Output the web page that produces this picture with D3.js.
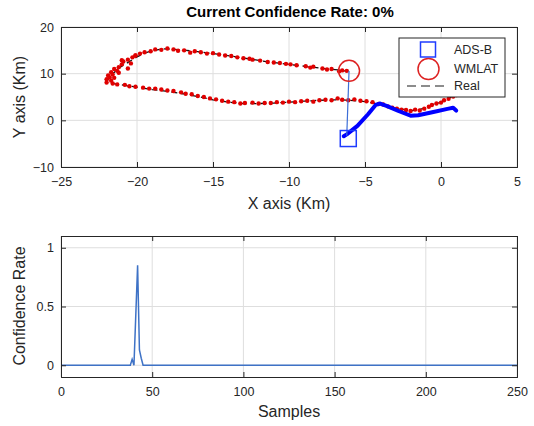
<!DOCTYPE html>
<html><head><meta charset="utf-8">
<script src="https://cdn.jsdelivr.net/npm/d3@7"></script>
<style>
html,body{margin:0;padding:0;background:#fff;}
svg{display:block;font-family:"Liberation Sans",Arial,sans-serif;}
</style></head>
<body>
<svg id="chart" width="534" height="426"></svg>
<script>
// ---------------- DATA ----------------
const titleText = "Current Confidence Rate: 0%";
const xTicksTop = [-25, -20, -15, -10, -5, 0, 5];
const yTicksTop = [-10, 0, 10, 20];
const xTicksBottom = [0, 50, 100, 150, 200, 250];
const yTicksBottom = [0, 0.5, 1];

// Real trajectory (km)
const realX = [-6.1,-6.8,-7.5,-8.5,-9.5,-10.5,-11.5,-12.5,-13.5,-14.5,-15.5,-16.5,-17.5,-18.3,-19.0,-19.5,-20.0,-20.5,-21.1,-21.6,-21.9,-22.0,
  -21.0,-20.0,-19.0,-18.0,-17.0,-16.0,-15.0,-14.0,-13.0,-12.0,-11.0,-10.0,-9.0,-8.0,-7.0,-6.0,-5.0,-4.0,-3.0,-2.0,-1.5,-1.0,-0.5,0.0,0.5,1.0,1.4];
const realY = [10.5,10.8,11.0,11.4,11.8,12.2,12.6,13.1,13.6,14.1,14.5,14.9,15.2,15.3,14.9,14.4,13.6,12.6,11.4,10.0,8.8,8.1,
  7.6,7.1,6.6,6.2,5.7,5.1,4.4,3.9,3.6,3.6,3.7,3.9,4.1,4.3,4.4,4.3,4.0,3.4,2.6,2.1,2.2,2.7,3.4,3.9,4.7,5.6,6.5];

// WMLAT estimates (km)
const wmlatX = [-6.2,-6.5,-6.7,-7.2,-7.5,-7.8,-8.4,-8.6,-8.9,-9.5,-9.9,-10.2,-10.6,-11.0,-11.4,-11.9,-12.4,-12.6,-13.0,-13.4,-13.8,-14.2,-14.6,-15.0,-15.4,-15.8,-16.2,-16.5,-16.9,-17.3,-17.6,-18.0,-18.4,-18.8,-19.1,-19.5,-19.8,-20.1,-20.3,-20.6,-20.4,-20.9,-21.0,-21.2,-21.5,-21.3,-21.7,-21.6,-21.9,-21.8,-22.0,-21.7,-22.0,-21.5,-21.2,-20.6,-21.0,-20.1,
  -21.6,-21.3,-20.8,-20.5,-20.1,-19.6,-19.2,-18.8,-18.4,-18.0,-17.6,-17.1,-16.8,-16.4,-16.0,-15.6,-15.2,-14.8,-14.4,-14.0,-13.6,-13.2,-12.9,-12.4,-12.0,-11.6,-11.2,-10.8,-10.4,-10.0,-9.6,-9.2,-8.8,-8.4,-8.0,-7.6,-7.2,-6.8,-6.5,-6.1,-5.7,-5.3,-4.9,-4.5,-4.1,-3.8,-3.5,-3.2,-2.9,-2.6,-2.3,-2.0,-1.7,-1.4,-1.1,-0.8,-0.6,-0.3,0.0,0.2,0.5,0.8,1.0];
const wmlatY = [10.6,10.7,10.5,11.0,10.9,11.1,11.5,11.3,11.6,11.8,12.0,12.1,12.3,12.4,12.5,12.8,13.0,13.2,13.3,13.5,13.8,13.9,14.1,14.4,14.3,14.6,14.8,14.5,15.0,14.9,15.2,15.4,15.1,15.2,14.8,14.6,14.3,13.9,13.5,13.0,12.2,12.6,12.0,11.4,11.0,10.6,10.3,9.8,9.6,9.2,8.8,8.5,8.1,9.1,10.2,11.1,12.9,13.9,
  7.9,7.7,7.6,7.3,7.2,7.0,6.8,6.8,6.6,6.4,6.3,6.0,5.7,5.6,5.2,5.0,4.7,4.5,4.2,4.0,3.9,3.6,3.7,3.8,3.6,3.7,3.7,3.9,3.8,4.0,3.9,4.1,4.2,4.0,4.3,4.4,4.3,4.7,4.4,4.3,4.5,4.2,4.1,3.9,3.5,3.4,3.0,2.7,2.5,2.3,2.2,2.0,2.3,2.1,2.5,2.9,3.3,3.6,3.8,4.3,4.6,5.1,5.4];

// ADS-B track (km)
const adsbX = [-6.4,-6.2,-5.5,-4.8,-4.3,-4.0,-3.5,-2.8,-2.0,-1.5,-0.5,0.5,0.8,1.0];
const adsbY = [-3.4,-3.0,-1.2,1.3,3.3,3.6,3.0,2.0,1.0,1.1,1.8,2.5,2.7,2.1];

// current positions
const adsbNow = [-6.1, -3.9];
const wmlatNow = [-6.05, 10.6];
const linkFrom = [-6.2, -3.3];

// confidence rate vs samples
const samples = [0, 38, 39, 40, 42, 43, 44, 45, 250];
const confidence = [0, 0, 0.05, 0, 0.85, 0.13, 0.06, 0, 0];

const legendLabels = ["ADS-B", "WMLAT", "Real"];

// ---------------- DRAW ----------------
const svg = d3.select("#chart");
const axisCol = "#262626", gridCol = "#dedede";

function frame(g, x, y, xt, yt) {
  const [x0, x1] = x.range(), [y0, y1] = y.range();
  g.append("g").selectAll("line").data(xt).join("line")
    .attr("x1", d => x(d)).attr("x2", d => x(d)).attr("y1", y0).attr("y2", y1)
    .attr("stroke", gridCol).attr("stroke-width", 1);
  g.append("g").selectAll("line").data(yt).join("line")
    .attr("y1", d => y(d)).attr("y2", d => y(d)).attr("x1", x0).attr("x2", x1)
    .attr("stroke", gridCol).attr("stroke-width", 1);
}
function axes(g, x, y, xt, yt, fmtX, fmtY) {
  const [x0, x1] = x.range(), [y0, y1] = y.range();
  const ax = [
    [d3.axisBottom(x).tickValues(xt).tickSize(-5).tickPadding(10).tickFormat(fmtX), y0],
    [d3.axisTop(x).tickValues(xt).tickSize(-5).tickFormat(""), y1],
  ];
  ax.forEach(([a, ty]) => {
    const ag = g.append("g").attr("transform", `translate(0,${ty})`).call(a);
    ag.select(".domain").attr("stroke", axisCol).attr("stroke-width", 1);
    ag.selectAll(".tick line").attr("stroke", axisCol);
    ag.selectAll("text").attr("fill", axisCol).style("font-size", "12.5px");
  });
  const ay = [
    [d3.axisLeft(y).tickValues(yt).tickSize(-5).tickPadding(7).tickFormat(fmtY), x0],
    [d3.axisRight(y).tickValues(yt).tickSize(-5).tickFormat(""), x1],
  ];
  ay.forEach(([a, tx]) => {
    const ag = g.append("g").attr("transform", `translate(${tx},0)`).call(a);
    ag.select(".domain").attr("stroke", axisCol).attr("stroke-width", 1);
    ag.selectAll(".tick line").attr("stroke", axisCol);
    ag.selectAll("text").attr("fill", axisCol).style("font-size", "12.5px");
  });
}

// ---- top plot ----
const xT = d3.scaleLinear().domain([-25, 5]).range([61, 517]);
const yT = d3.scaleLinear().domain([-10, 20]).range([167, 27]);
const gT = svg.append("g");
frame(gT, xT, yT, xTicksTop, yTicksTop);

svg.append("clipPath").attr("id", "clipT").append("rect")
  .attr("x", 61).attr("y", 27).attr("width", 456).attr("height", 140);
const plotT = gT.append("g").attr("clip-path", "url(#clipT)");

const line = d3.line().x(d => xT(d[0])).y(d => yT(d[1]));
plotT.append("path").datum(d3.zip(realX, realY)).attr("d", line)
  .attr("fill", "none").attr("stroke", "#111").attr("stroke-width", 1.3).attr("stroke-dasharray", "6,4");

plotT.append("g").selectAll("circle").data(d3.zip(wmlatX, wmlatY)).join("circle")
  .attr("cx", d => xT(d[0])).attr("cy", d => yT(d[1])).attr("r", 2.2).attr("fill", "#e00000");

plotT.append("path").datum(d3.zip(adsbX, adsbY)).attr("d", line)
  .attr("fill", "none").attr("stroke", "#0000ff").attr("stroke-width", 4)
  .attr("stroke-linejoin", "round").attr("stroke-linecap", "round");

plotT.append("line")
  .attr("x1", xT(linkFrom[0])).attr("y1", yT(linkFrom[1]))
  .attr("x2", xT(wmlatNow[0])).attr("y2", yT(wmlatNow[1]))
  .attr("stroke", "#3d6ed6").attr("stroke-width", 1.2);

plotT.append("rect").attr("x", xT(adsbNow[0]) - 8).attr("y", yT(adsbNow[1]) - 8)
  .attr("width", 16).attr("height", 16).attr("fill", "none").attr("stroke", "#1f3cff").attr("stroke-width", 1.5);
plotT.append("circle").attr("cx", xT(wmlatNow[0])).attr("cy", yT(wmlatNow[1])).attr("r", 10.5)
  .attr("fill", "none").attr("stroke", "#dd2222").attr("stroke-width", 1.5);

axes(gT, xT, yT, xTicksTop, yTicksTop, d => d3.format("")(d), d => d3.format("")(d));

// legend
const lg = gT.append("g").attr("transform", "translate(399,38)");
lg.append("rect").attr("width", 106).attr("height", 59).attr("fill", "#fff").attr("stroke", axisCol).attr("stroke-width", 1);
lg.append("rect").attr("x", 21.5).attr("y", 4).attr("width", 15).attr("height", 15)
  .attr("fill", "none").attr("stroke", "#1f3cff").attr("stroke-width", 1.5);
lg.append("circle").attr("cx", 29.5).attr("cy", 31).attr("r", 10.5)
  .attr("fill", "none").attr("stroke", "#dd2222").attr("stroke-width", 1.5);
lg.append("line").attr("x1", 8).attr("x2", 50).attr("y1", 48).attr("y2", 48)
  .attr("stroke", "#1a1a1a").attr("stroke-width", 1.2).attr("stroke-dasharray", "9,5");
lg.selectAll("text.lab").data(legendLabels).join("text").attr("class", "lab")
  .attr("x", 55).attr("y", (d, i) => [12, 31, 48][i]).attr("dy", "0.35em")
  .attr("fill", axisCol).style("font-size", "12.5px").text(d => d);

svg.append("text").attr("x", 290).attr("y", 17).attr("text-anchor", "middle")
  .style("font-size", "15px").style("font-weight", "bold").attr("fill", "#000").text(titleText);
svg.append("text").attr("x", 289).attr("y", 209).attr("text-anchor", "middle")
  .style("font-size", "16px").attr("fill", axisCol).text("X axis (Km)");
svg.append("text").attr("transform", "translate(25,97) rotate(-90)").attr("text-anchor", "middle")
  .style("font-size", "16px").attr("fill", axisCol).text("Y axis (Km)");

// ---- bottom plot ----
const xB = d3.scaleLinear().domain([0, 250]).range([61, 517]);
const yB = d3.scaleLinear().domain([-0.1, 1.1]).range([377, 236]);
const gB = svg.append("g");
frame(gB, xB, yB, xTicksBottom, yTicksBottom);
const lineB = d3.line().x(d => xB(d[0])).y(d => yB(d[1]));
gB.append("path").datum(d3.zip(samples, confidence)).attr("d", lineB)
  .attr("fill", "none").attr("stroke", "#3e72c6").attr("stroke-width", 1.5);
axes(gB, xB, yB, xTicksBottom, yTicksBottom, d => d3.format("")(d), d => d3.format("")(d));

svg.append("text").attr("x", 289).attr("y", 417).attr("text-anchor", "middle")
  .style("font-size", "16px").attr("fill", axisCol).text("Samples");
svg.append("text").attr("transform", "translate(25,306) rotate(-90)").attr("text-anchor", "middle")
  .style("font-size", "16px").attr("fill", axisCol).text("Confidence Rate");
</script>
</body></html>
